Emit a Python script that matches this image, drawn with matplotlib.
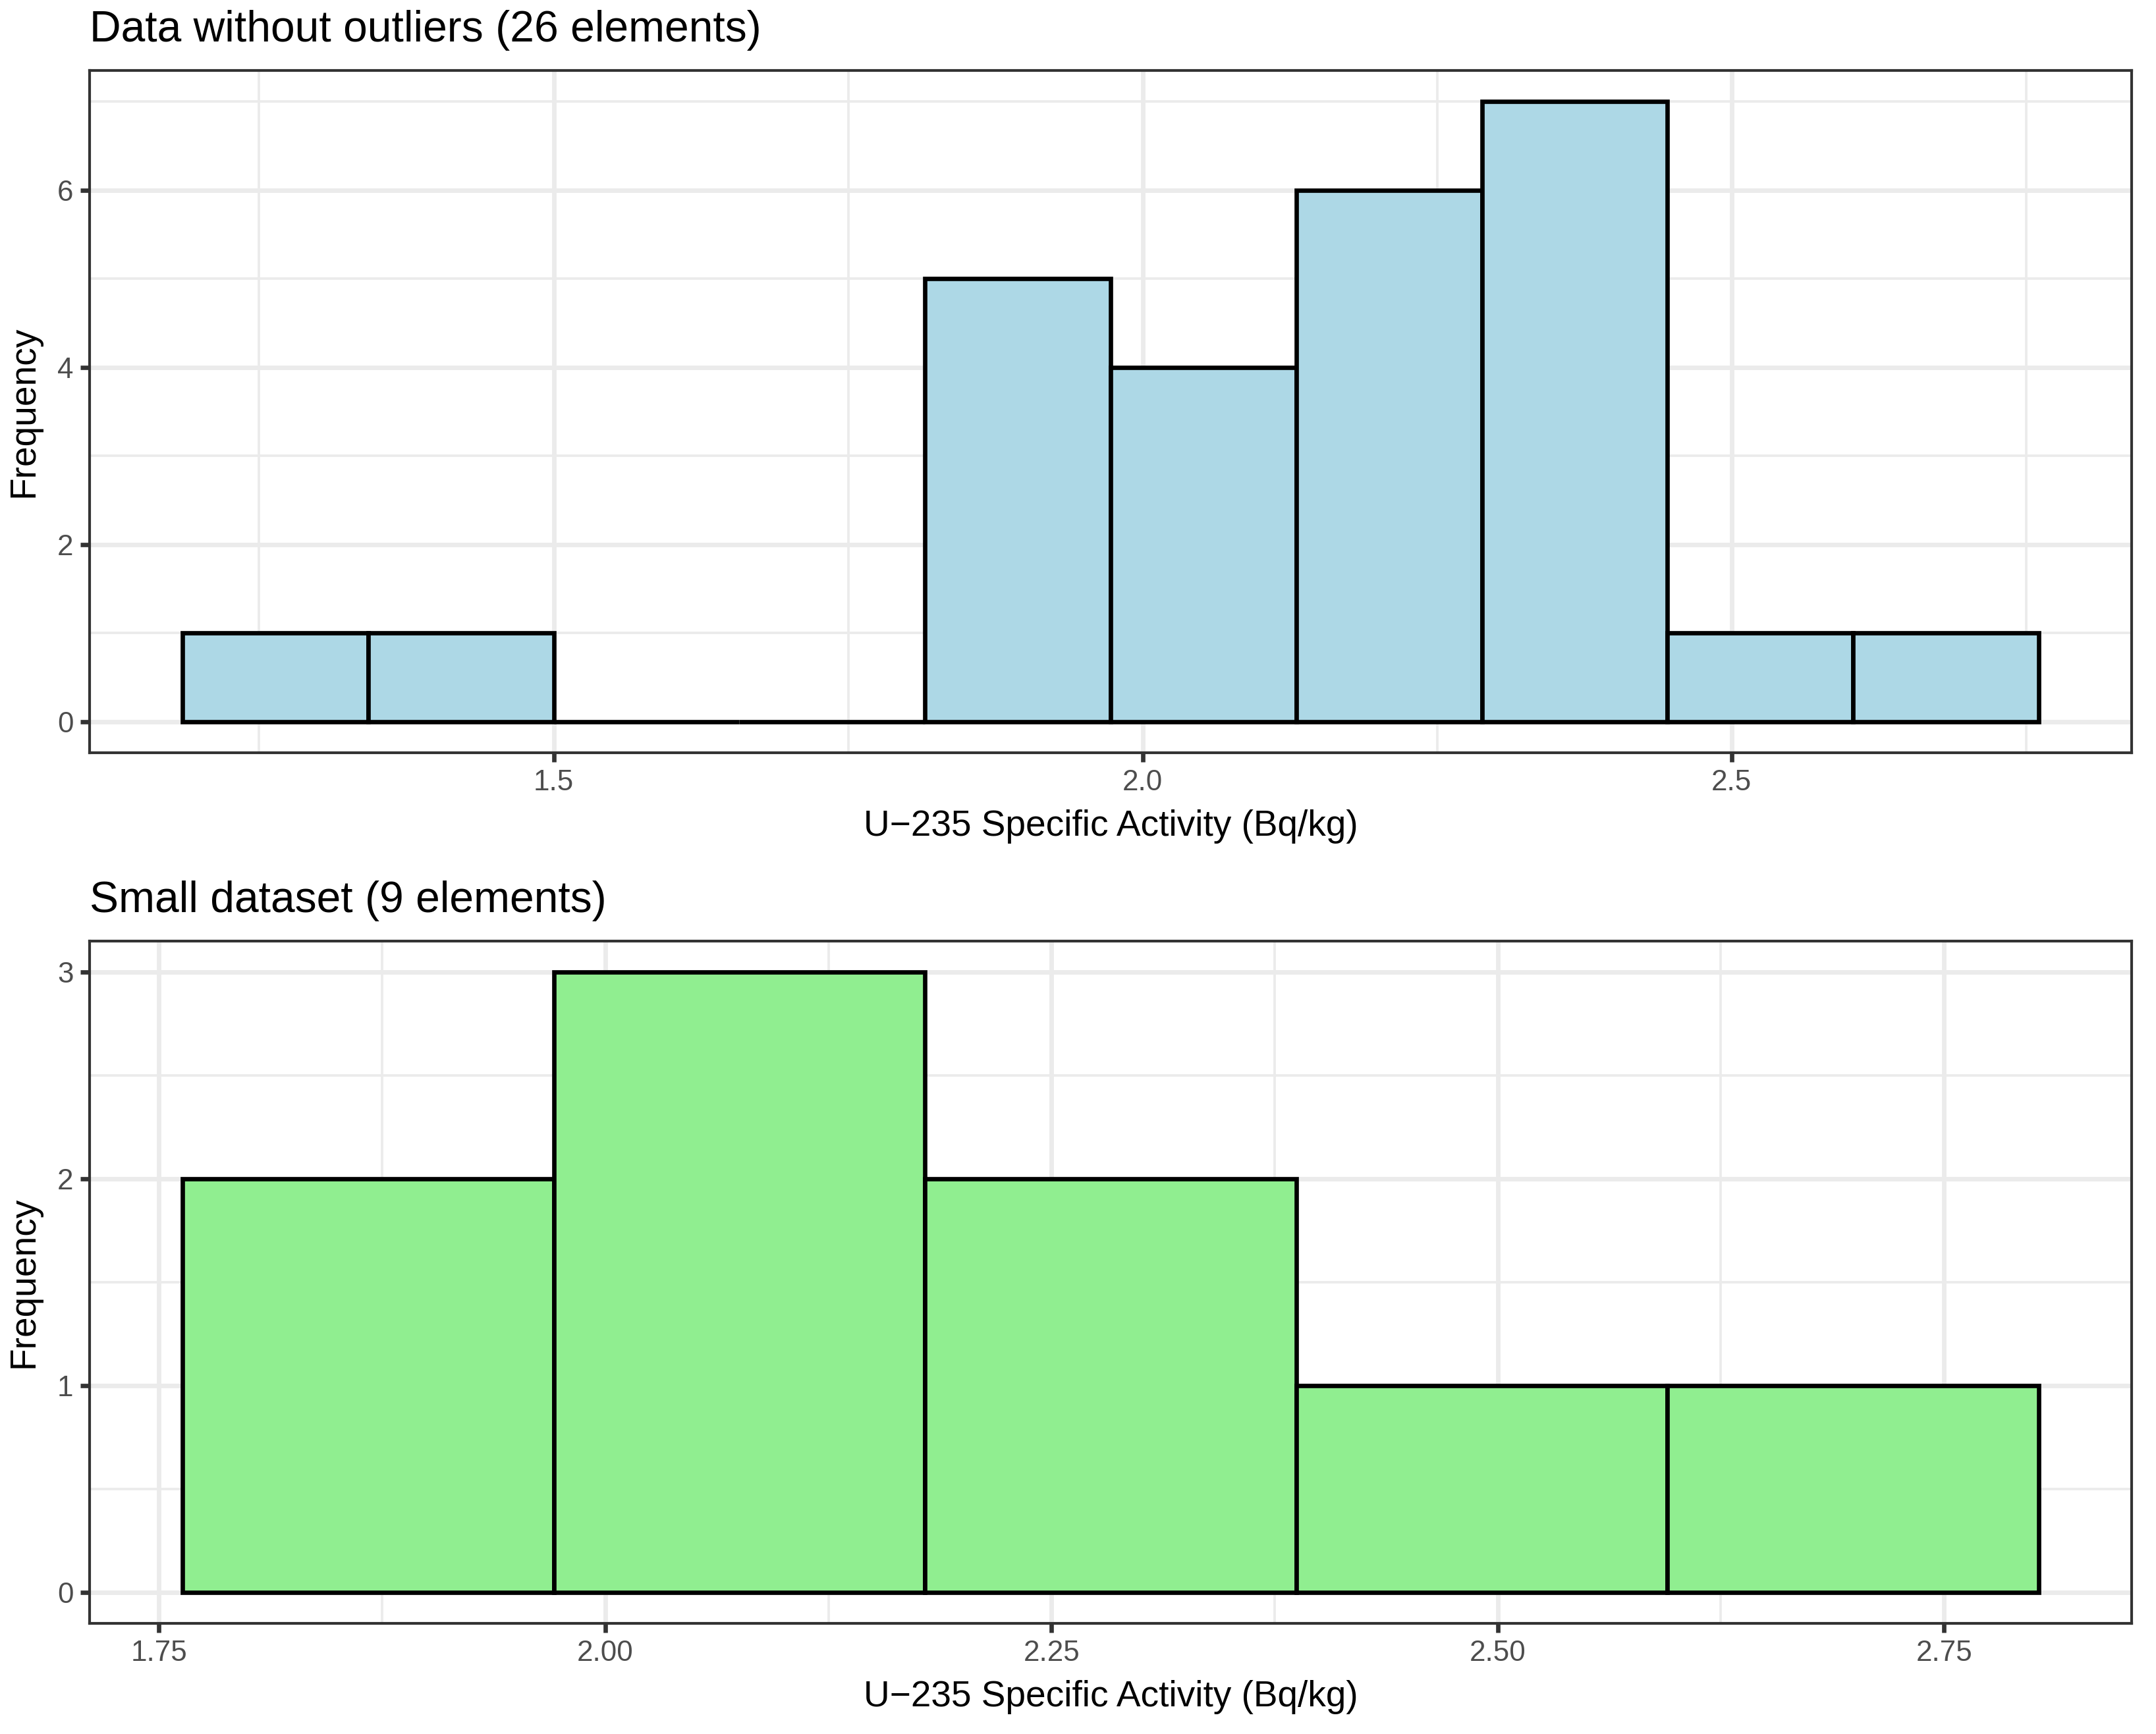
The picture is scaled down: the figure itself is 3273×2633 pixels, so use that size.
import matplotlib
matplotlib.use("Agg")
import matplotlib.pyplot as plt
import numpy as np

plt.rcParams['font.family'] = ['Liberation Sans', 'DejaVu Sans']

# ---- data ----
top_title = "Data without outliers (26 elements)"
top_edges = [1.1848, 1.3424, 1.5000, 1.6576, 1.8152, 1.9728, 2.1304, 2.2880, 2.4456, 2.6032, 2.7608]
top_counts = [1, 1, 0, 0, 5, 4, 6, 7, 1, 1]
top_xticks = [1.5, 2.0, 2.5]
top_xticklabels = ["1.5", "2.0", "2.5"]
top_xminor = [1.25, 1.75, 2.25, 2.75]
top_yticks = [0, 2, 4, 6]
top_yminor = [1, 3, 5, 7]

bot_title = "Small dataset (9 elements)"
bot_edges = [1.7631, 1.9711, 2.1791, 2.3871, 2.5951, 2.8031]
bot_counts = [2, 3, 2, 1, 1]
bot_xticks = [1.75, 2.00, 2.25, 2.50, 2.75]
bot_xticklabels = ["1.75", "2.00", "2.25", "2.50", "2.75"]
bot_xminor = [1.875, 2.125, 2.375, 2.625]
bot_yticks = [0, 1, 2, 3]
bot_yminor = [0.5, 1.5, 2.5]

xlabel = "U\u2212235 Specific Activity (Bq/kg)"
ylabel = "Frequency"

W, H = 3273, 2633
fig = plt.figure(figsize=(W / 300, H / 300), dpi=300)

def px_rect(l, t, r, b):
    return [l / W, 1 - b / H, (r - l) / W, (b - t) / H]

grid_c = "#EBEBEB"
border_c = "#333333"
S = 1.2

def panel(rect, title, edges, counts, color, xticks, xtl, xminor, yticks, yminor):
    ax = fig.add_axes(rect)
    edges = np.asarray(edges)
    counts = np.asarray(counts)
    lo, hi = edges[0], edges[-1]
    rng = hi - lo
    ax.set_xlim(lo - 0.05 * rng, hi + 0.05 * rng)
    ymax = counts.max()
    ax.set_ylim(-0.05 * ymax, ymax * 1.05)
    for v in xminor:
        ax.axvline(v, color=grid_c, lw=0.9, zorder=0)
    for v in yminor:
        ax.axhline(v, color=grid_c, lw=0.9, zorder=0)
    for v in xticks:
        ax.axvline(v, color=grid_c, lw=1.65, zorder=0)
    for v in yticks:
        ax.axhline(v, color=grid_c, lw=1.65, zorder=0)
    ax.bar(edges[:-1], counts, width=np.diff(edges), align='edge',
           color=color, edgecolor='black', linewidth=1.6, zorder=2)
    ax.set_xticks(xticks)
    ax.set_xticklabels(xtl)
    ax.set_yticks(yticks)
    ax.set_yticklabels([str(v) for v in yticks])
    for s in ax.spines.values():
        s.set_color(border_c)
        s.set_linewidth(1.0)
        s.set_zorder(5)
    ax.tick_params(axis='both', length=3.3, width=1.6, color=border_c,
                   labelsize=8.8 * S, labelcolor="#4D4D4D", pad=2.6)
    ax.set_xlabel(xlabel, fontsize=11 * S, labelpad=5.0, color='black')
    ax.set_ylabel(ylabel, fontsize=11 * S, color='black')
    ax.yaxis.set_label_coords(-0.0237, 0.5)
    ax.set_title(title, loc='left', fontsize=13.2 * S, pad=10.6, color='black')
    return ax

panel(px_rect(136, 107, 3236, 1143), top_title, top_edges, top_counts, "#ADD8E6",
      top_xticks, top_xticklabels, top_xminor, top_yticks, top_yminor)
panel(px_rect(136, 1429, 3236, 2465), bot_title, bot_edges, bot_counts, "#90EE90",
      bot_xticks, bot_xticklabels, bot_xminor, bot_yticks, bot_yminor)

fig.savefig("out.png", dpi=300, facecolor='white')
